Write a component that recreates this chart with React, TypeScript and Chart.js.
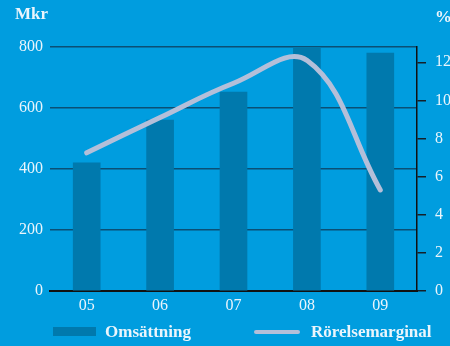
import React, { useEffect, useRef } from "react";
import { Chart, registerables } from "chart.js";

Chart.register(...registerables);

const categories = ["05", "06", "07", "08", "09"];
const omsattning = [420, 560, 652, 800, 780];
const rorelsemarginal = [7.25, 9.1, 10.9, 12.1, 5.3];

const BG = "#009ddf";
const BAR = "#0079ad";
const LINE = "#b4bfd9";
const TEXT = "#eaf5fc";
const FONT = "'Liberation Serif', 'Times New Roman', serif";

export default function App() {
  const ref = useRef<HTMLCanvasElement>(null);

  useEffect(() => {
    document.body.style.margin = "0";
    document.body.style.background = BG;
    const ctx = ref.current!;
    const chart = new Chart(ctx, {
      data: {
        labels: categories,
        datasets: [
          {
            type: "line",
            label: "Rörelsemarginal",
            data: rorelsemarginal,
            yAxisID: "y1",
            borderColor: LINE,
            borderWidth: 5,
            borderCapStyle: "round",
            tension: 0.4,
            pointRadius: 0,
            order: 0,
          },
          {
            type: "bar",
            label: "Omsättning",
            data: omsattning,
            yAxisID: "y",
            backgroundColor: BAR,
            barThickness: 27,
            order: 1,
          },
        ],
      },
      options: {
        responsive: false,
        animation: false,
        layout: { padding: { top: 47, bottom: 25, left: 0, right: 0 } },
        plugins: { legend: { display: false }, tooltip: { enabled: false } },
        scales: {
          x: {
            grid: { display: false, drawTicks: false },
            border: { display: true, color: "#111", width: 2 },
            ticks: { color: TEXT, font: { family: FONT, size: 16 }, padding: 5 },
            afterFit: (s: any) => {
              s.height = 30;
            },
          },
          y: {
            position: "left",
            min: 0,
            max: 800,
            grid: { color: "#0b4f74", lineWidth: 1.5, drawTicks: false },
            border: { display: false },
            ticks: { stepSize: 200, color: TEXT, font: { family: FONT, size: 16 }, padding: 7 },
            afterFit: (s: any) => {
              s.width = 50;
            },
          },
          y1: {
            position: "right",
            min: 0,
            max: 12.8,
            grid: { drawOnChartArea: false, drawTicks: true, tickLength: 9, color: "#14202a", lineWidth: 1.5 },
            border: { display: true, color: "#111", width: 1.5 },
            ticks: { stepSize: 2, includeBounds: false, color: TEXT, font: { family: FONT, size: 16 }, padding: 9 },
            afterFit: (s: any) => {
              s.width = 33;
            },
          },
        },
      },
    } as any);
    return () => chart.destroy();
  }, []);

  const bold: React.CSSProperties = {
    position: "absolute",
    fontFamily: FONT,
    fontWeight: "bold",
    fontSize: 17,
    color: TEXT,
    lineHeight: "17px",
    whiteSpace: "nowrap",
  };

  return (
    <div style={{ position: "fixed", left: 0, top: 0, width: 450, height: 346, background: BG, overflow: "hidden" }}>
      <canvas ref={ref} width={450} height={346} style={{ position: "absolute", left: 0, top: 0 }} />
      <div style={{ ...bold, left: 15, top: 5 }}>Mkr</div>
      <div style={{ ...bold, left: 435, top: 8 }}>%</div>
      <div style={{ position: "absolute", left: 53, top: 327, width: 43, height: 9, background: BAR }} />
      <div style={{ ...bold, left: 105, top: 323 }}>Omsättning</div>
      <div style={{ position: "absolute", left: 254, top: 330, width: 46, height: 4, background: LINE, borderRadius: 2 }} />
      <div style={{ ...bold, left: 311, top: 323 }}>Rörelsemarginal</div>
    </div>
  );
}
